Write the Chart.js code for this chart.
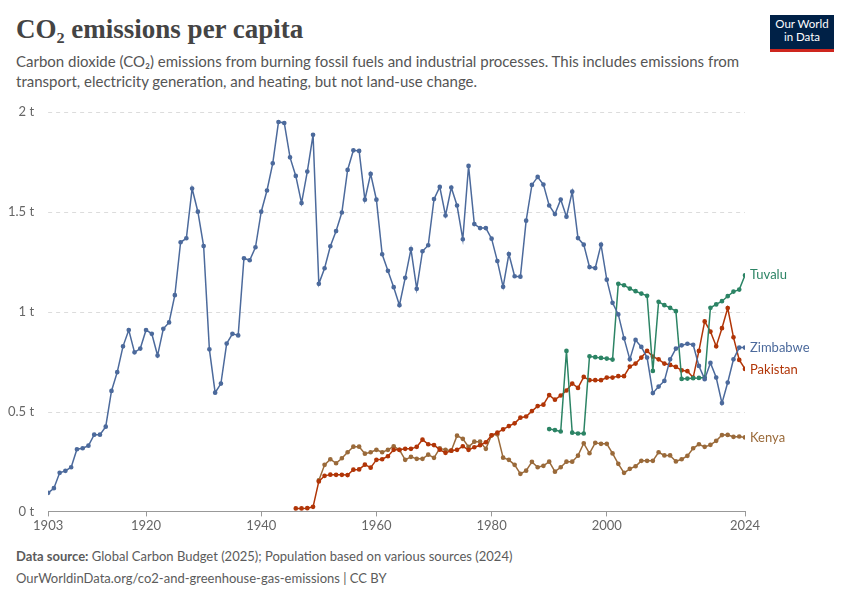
<!DOCTYPE html>
<html><head><meta charset="utf-8">
<script src="https://cdn.jsdelivr.net/npm/chart.js@4"></script>
<style>
body{margin:0;width:850px;height:600px;background:#fff;font-family:Lato,sans-serif;position:relative;overflow:hidden}
#t{position:absolute;left:16px;top:14px;font-family:"Liberation Serif",serif;font-size:27px;font-weight:600;color:#444}
#s{position:absolute;left:16px;top:51px;width:760px;font-size:15px;line-height:20px;color:#555}
#logo{position:absolute;left:770px;top:15px;width:64px;height:37px;background:#002147;border-bottom:3px solid #ce261e;color:#fff;font-size:11.5px;line-height:13px;text-align:center;padding-top:2px;box-sizing:border-box}
#f1{position:absolute;left:16px;top:548px;font-size:13px;color:#5b5b5b}
#f2{position:absolute;left:16px;top:570px;font-size:13px;color:#5b5b5b}
#c{position:absolute;left:0;top:98px;width:850px;height:438px}
</style></head><body>
<div id="t">CO₂ emissions per capita</div>
<div id="s">Carbon dioxide (CO₂) emissions from burning fossil fuels and industrial processes. This includes emissions from transport, electricity generation, and heating, but not land-use change.</div>
<div id="logo">Our World<br>in Data</div>
<div id="c"><canvas id="cv"></canvas></div>
<div id="f1"><b>Data source:</b> Global Carbon Budget (2025); Population based on various sources (2024)</div>
<div id="f2">OurWorldinData.org/co2-and-greenhouse-gas-emissions | CC BY</div>
<script>
const xTicks=[1903,1920,1940,1960,1980,2000,2024];
const yTicks=[0,0.5,1,1.5,2];
const zimbabweStart=1903;
const zimbabwe=[0.093,0.116,0.193,0.203,0.221,0.311,0.316,0.329,0.384,0.384,0.424,0.603,0.697,0.826,0.908,0.796,0.815,0.908,0.889,0.780,0.914,0.946,1.082,1.347,1.367,1.616,1.50,1.328,0.811,0.594,0.640,0.840,0.889,0.881,1.267,1.257,1.322,1.50,1.606,1.742,1.949,1.944,1.772,1.679,1.543,1.701,1.885,1.139,1.217,1.327,1.403,1.496,1.709,1.807,1.804,1.56,1.689,1.56,1.287,1.204,1.122,1.032,1.169,1.313,1.114,1.302,1.332,1.563,1.624,1.481,1.621,1.531,1.362,1.729,1.438,1.418,1.418,1.365,1.253,1.124,1.288,1.177,1.175,1.455,1.634,1.674,1.636,1.531,1.488,1.561,1.475,1.60,1.368,1.335,1.223,1.218,1.335,1.16,1.044,0.986,0.866,0.761,0.858,0.823,0.770,0.592,0.625,0.653,0.761,0.815,0.831,0.839,0.834,0.728,0.662,0.743,0.670,0.542,0.645,0.761,0.820,0.820];
const tuvaluStart=1990;
const tuvalu=[0.412,0.407,0.400,0.803,0.394,0.39,0.39,0.776,0.772,0.768,0.765,0.760,1.139,1.132,1.115,1.102,1.09,1.079,0.703,1.049,1.032,1.019,1.002,0.663,0.665,0.667,0.668,0.67,1.019,1.036,1.052,1.077,1.1,1.11,1.182];
const pakistanStart=1946;
const pakistan=[0.015,0.015,0.016,0.023,0.15,0.178,0.184,0.183,0.183,0.182,0.209,0.21,0.234,0.219,0.258,0.261,0.276,0.308,0.308,0.313,0.313,0.323,0.359,0.336,0.332,0.309,0.293,0.304,0.308,0.326,0.308,0.321,0.331,0.346,0.381,0.394,0.411,0.427,0.441,0.469,0.475,0.502,0.527,0.534,0.582,0.559,0.58,0.605,0.64,0.618,0.673,0.657,0.657,0.657,0.67,0.67,0.677,0.677,0.725,0.74,0.77,0.803,0.775,0.761,0.74,0.733,0.723,0.706,0.702,0.67,0.803,0.951,0.90,0.826,0.917,1.018,0.871,0.758,0.713];
const kenyaStart=1950;
const kenya=[0.155,0.233,0.261,0.241,0.266,0.296,0.324,0.324,0.289,0.296,0.308,0.296,0.308,0.326,0.308,0.258,0.273,0.263,0.263,0.284,0.268,0.316,0.308,0.304,0.379,0.363,0.323,0.349,0.349,0.313,0.381,0.386,0.269,0.258,0.233,0.188,0.204,0.248,0.221,0.228,0.249,0.199,0.221,0.249,0.249,0.279,0.341,0.291,0.343,0.338,0.338,0.29,0.238,0.193,0.213,0.226,0.253,0.253,0.253,0.296,0.28,0.28,0.25,0.261,0.278,0.316,0.336,0.323,0.333,0.353,0.382,0.383,0.373,0.375,0.37];
function pts(start,arr){return arr.map((v,i)=>({x:start+i,y:v}));}
const series=[
 {label:'Zimbabwe',data:pts(zimbabweStart,zimbabwe),color:'#4c6a9c'},
 {label:'Tuvalu',data:pts(tuvaluStart,tuvalu),color:'#2c8465'},
 {label:'Pakistan',data:pts(pakistanStart,pakistan),color:'#b13507'},
 {label:'Kenya',data:pts(kenyaStart,kenya),color:'#9a6a3a'}
];
const dashGrid={id:'dashGrid',beforeDatasetsDraw(ch){
 const c=ch.ctx,a=ch.chartArea;c.save();c.strokeStyle='#dcdcdc';c.lineWidth=1;c.setLineDash([4,4]);
 yTicks.forEach(v=>{if(v===0)return;const y=Math.round(ch.scales.y.getPixelForValue(v))+0.5;c.beginPath();c.moveTo(a.left,y);c.lineTo(a.right,y);c.stroke();});
 c.restore();}};
const endLabels={id:'endLabels',afterDatasetsDraw(ch){
 const c=ch.ctx;c.save();c.font='13px Lato';c.textBaseline='middle';
 const offs={Zimbabwe:0,Tuvalu:0,Pakistan:1,Kenya:0};
 ch.data.datasets.forEach(d=>{const p=d.data[d.data.length-1];
  const x=ch.scales.x.getPixelForValue(p.x),y=ch.scales.y.getPixelForValue(p.y);
  c.fillStyle=d.borderColor;c.fillText(d.label,x+5,y+offs[d.label]);});
 c.restore();}};
new Chart(document.getElementById('cv'),{type:'line',
 data:{datasets:series.map(s=>({label:s.label,data:s.data,borderColor:s.color,backgroundColor:s.color,borderWidth:1.5,pointRadius:1.6,pointHoverRadius:0,tension:0}))},
 options:{responsive:true,maintainAspectRatio:false,animation:false,
  layout:{padding:{left:2,right:105,top:0,bottom:0}},
  plugins:{legend:{display:false},tooltip:{enabled:false}},
  scales:{
   x:{type:'linear',min:1903,max:2024,afterBuildTicks(a){a.ticks=xTicks.map(v=>({value:v}));},
    ticks:{color:'#666',font:{family:'Lato',size:13},callback:v=>String(v),maxRotation:0,autoSkip:false,padding:2},
    grid:{display:true,drawOnChartArea:false,drawTicks:true,tickLength:5,color:'#999'},border:{color:'#999'}},
   y:{min:0,max:2,afterBuildTicks(a){a.ticks=yTicks.map(v=>({value:v}));},
    ticks:{color:'#666',font:{family:'Lato',size:13},callback:v=>v+' t',padding:6},
    grid:{display:false},border:{display:false}}
  }},
 plugins:[dashGrid,endLabels]});
</script></body></html>
